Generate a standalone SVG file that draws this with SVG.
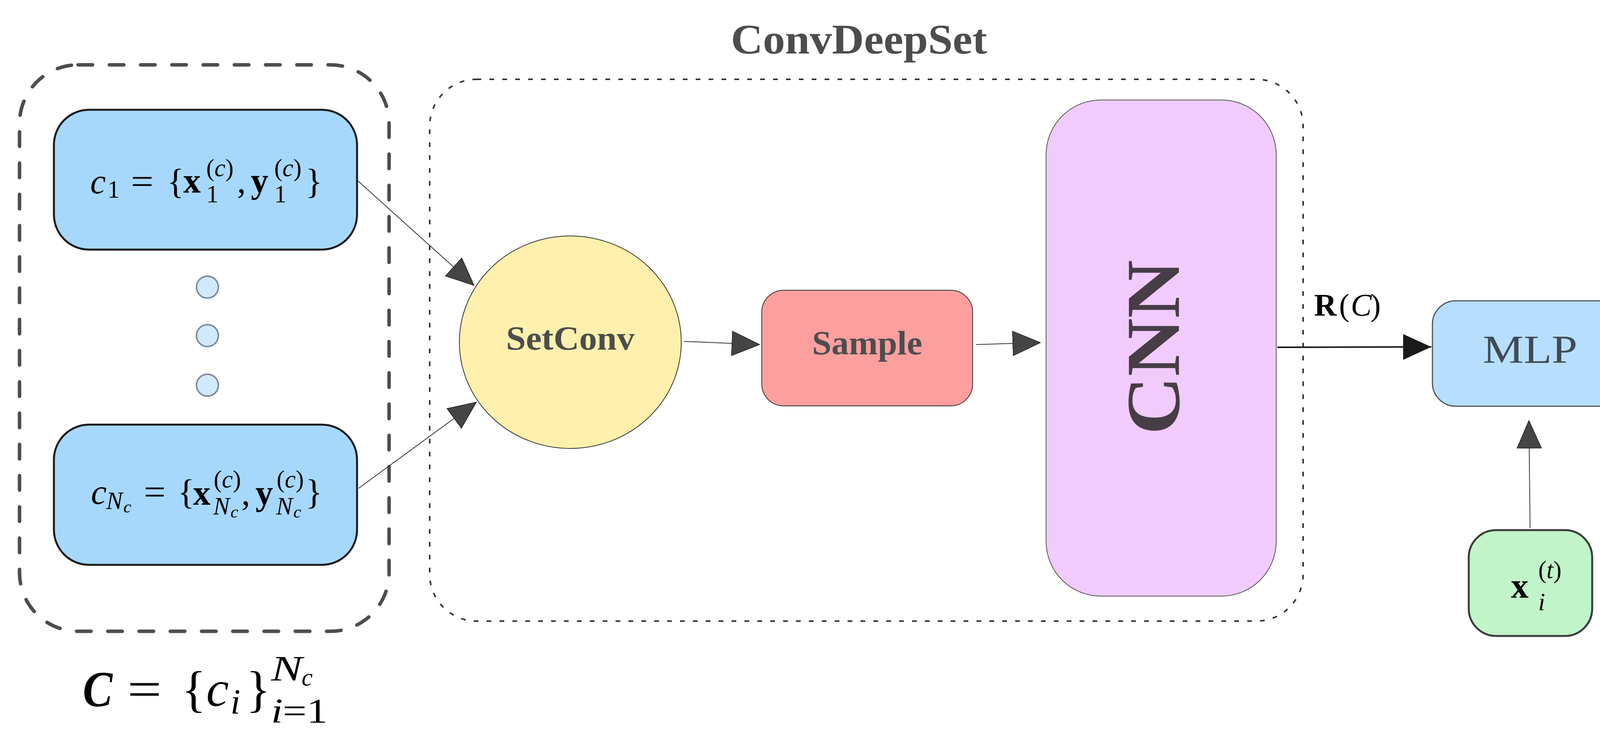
<svg xmlns="http://www.w3.org/2000/svg" width="4834" height="1902" viewBox="0 0 4834 1902">
<style>
text{font-family:"Liberation Serif","Times New Roman",serif;}
.m{font-size:90px;fill:#000;}
.s{font-size:63px;fill:#000;}
.ss{font-size:45px;fill:#000;}
.it{font-style:italic;}
.bf{font-weight:bold;}
.cbox{fill:#a6d8fd;stroke:#1a1a1a;stroke-width:5;}
.dot{fill:#d1e9fd;stroke:#808b96;stroke-width:4;}
.out{fill:#40bf55;stroke:#1a1a1a;stroke-width:6;}
.conn{fill:none;stroke:#333;stroke-width:2;}
.connb{fill:none;stroke:#1a1a1a;stroke-width:4;}
.lbl{fill:#4d4d4d;font-weight:bold;}
</style>
<defs>
<marker id="ahg" viewBox="0 0 72 64" refX="72" refY="32" markerWidth="72" markerHeight="64" markerUnits="userSpaceOnUse" orient="auto">
<path d="M1,1L71,32L1,63Z" fill="#454545" stroke="#2a2a2a" stroke-width="2"/>
</marker>
<marker id="ahb" viewBox="0 0 72 66" refX="72" refY="33" markerWidth="72" markerHeight="66" markerUnits="userSpaceOnUse" orient="auto">
<path d="M0,0L72,33L0,66Z" fill="#1a1a1a"/>
</marker>
</defs>
<rect width="4834" height="1902" fill="#fff"/>

<g id="context-set">
<rect x="50" y="166" width="946" height="1450" rx="150" ry="150" fill="none" stroke="#4d4d4d" stroke-width="9" stroke-dasharray="37 43" stroke-linecap="round"/>
</g>

<g id="convdeepset">
<rect x="1100" y="203" width="2236" height="1387" rx="120" ry="120" fill="none" stroke="#333" stroke-width="4" stroke-dasharray="12 21"/>
<text x="2199" y="137" text-anchor="middle" font-size="109" class="lbl" textLength="656" lengthAdjust="spacingAndGlyphs">ConvDeepSet</text>
</g>

<g id="output-set">
<rect x="4358" y="559" width="426" height="770" rx="90" ry="90" fill="none" stroke="#1a1a1a" stroke-width="7" stroke-dasharray="45 40"/>
</g>

<g id="c1">
<rect class="cbox" x="138" y="281" width="776" height="358" rx="90" ry="90"/>
<text class="m it" x="231" y="495">c</text>
<text class="s" x="275" y="506">1</text>
<text class="m" x="335" y="495" textLength="58" lengthAdjust="spacingAndGlyphs">=</text>
<text class="m" x="428" y="495">{</text>
<text class="m bf" x="469" y="493">x</text>
<text class="s" x="528" y="451">(<tspan class="it">c</tspan>)</text>
<text class="s" x="528" y="518">1</text>
<text class="m" x="607" y="493">,</text>
<text class="m bf" x="642" y="493">y</text>
<text class="s" x="702" y="451">(<tspan class="it">c</tspan>)</text>
<text class="s" x="702" y="518">1</text>
<text class="m" x="782" y="495">}</text>
</g>

<g id="dots">
<circle class="dot" cx="531" cy="735" r="28"/>
<circle class="dot" cx="531" cy="859" r="28"/>
<circle class="dot" cx="531" cy="986" r="28"/>
</g>

<g id="cNc">
<rect class="cbox" x="138" y="1087" width="776" height="359" rx="90" ry="90"/>
<text class="m it" x="233" y="1290">c</text>
<text class="s it" x="272" y="1303">N</text>
<text class="ss it" x="316" y="1312">c</text>
<text class="m" x="368" y="1290" textLength="56" lengthAdjust="spacingAndGlyphs">=</text>
<text class="m" x="455" y="1290">{</text>
<text class="m bf" x="494" y="1292">x</text>
<text class="s" x="547" y="1248">(<tspan class="it">c</tspan>)</text>
<text class="s it" x="546" y="1317">N</text>
<text class="ss it" x="590" y="1325">c</text>
<text class="m" x="618" y="1292">,</text>
<text class="m bf" x="654" y="1292">y</text>
<text class="s" x="708" y="1248">(<tspan class="it">c</tspan>)</text>
<text class="s it" x="707" y="1317">N</text>
<text class="ss it" x="751" y="1325">c</text>
<text class="m" x="782" y="1290">}</text>
</g>

<g id="context-label">
<text x="212" y="1808" font-size="130" class="it bf" textLength="76" lengthAdjust="spacingAndGlyphs">C</text>
<text x="326" y="1808" font-size="130" textLength="88" lengthAdjust="spacingAndGlyphs">=</text>
<text x="465" y="1808" font-size="130">{</text>
<text x="528" y="1807" font-size="130" class="it">c</text>
<text x="590" y="1827" font-size="91" class="it">i</text>
<text x="630" y="1808" font-size="130">}</text>
<text x="694" y="1742" font-size="91" class="it" textLength="80" lengthAdjust="spacingAndGlyphs">N</text>
<text x="772" y="1755" font-size="64" class="it">c</text>
<text x="694" y="1849" font-size="88" textLength="145" lengthAdjust="spacingAndGlyphs"><tspan class="it">i</tspan>=1</text>
</g>

<g id="setconv">
<ellipse cx="1460" cy="876" rx="284" ry="272" fill="#fff0ad" stroke="#333" stroke-width="2"/>
<text x="1460" y="895" text-anchor="middle" font-size="86" class="lbl" textLength="329" lengthAdjust="spacingAndGlyphs">SetConv</text>
</g>

<g id="sample">
<rect x="1950" y="743" width="540" height="296" rx="56" ry="56" fill="#fe9f9f" stroke="#333" stroke-width="2"/>
<text x="2220" y="907" text-anchor="middle" font-size="86" class="lbl" textLength="282" lengthAdjust="spacingAndGlyphs">Sample</text>
</g>

<g id="cnn">
<rect x="2678" y="256" width="589" height="1270" rx="140" ry="140" fill="#f0cbfc" stroke="#555" stroke-width="2"/>
<text transform="translate(3018,889) rotate(-90)" x="0" y="0" text-anchor="middle" font-size="196" font-weight="bold" fill="#463d46" textLength="447" lengthAdjust="spacingAndGlyphs">CNN</text>
</g>

<g id="representation-label">
<text font-size="80" fill="#000"><tspan x="3364" y="808" font-weight="bold">R</tspan><tspan x="3428" y="808">(</tspan><tspan x="3458" y="808" font-style="italic">C</tspan><tspan x="3508" y="808">)</tspan></text>
</g>

<g id="mlp">
<rect x="3667" y="770" width="500" height="270" rx="60" ry="60" fill="#b7dffd" stroke="#4d5560" stroke-width="3"/>
<text x="3917" y="929" text-anchor="middle" font-size="101" fill="#3f4b55" textLength="242" lengthAdjust="spacingAndGlyphs">MLP</text>
</g>

<g id="target-input">
<rect x="3760" y="1357" width="316" height="271" rx="70" ry="70" fill="#c1f4c9" stroke="#3c3c3c" stroke-width="5"/>
<text class="m bf" x="3868" y="1530">x</text>
<text class="s" x="3938" y="1480">(<tspan class="it">t</tspan>)</text>
<text class="s it" x="3938" y="1562">i</text>
</g>

<g id="mu">
<rect class="out" x="4427" y="619" width="305" height="290" rx="75" ry="75"/>
<text x="4578" y="804" text-anchor="middle" font-size="190" class="it bf">μ</text>
</g>

<g id="sigma">
<rect class="out" x="4427" y="973" width="305" height="291" rx="75" ry="75"/>
<text x="4583" y="1175" text-anchor="middle" font-size="210" class="it bf">σ</text>
</g>

<g id="connectors">
<line class="conn" x1="914" y1="461" x2="1214" y2="731" marker-end="url(#ahg)"/>
<line class="conn" x1="918" y1="1250" x2="1220" y2="1029" marker-end="url(#ahg)"/>
<line class="conn" x1="1751" y1="874" x2="1945" y2="882" marker-end="url(#ahg)"/>
<line class="conn" x1="2499" y1="882" x2="2664" y2="877" marker-end="url(#ahg)"/>
<line class="connb" x1="3270" y1="889" x2="3664" y2="888" marker-end="url(#ahb)"/>
<line class="connb" x1="4172" y1="895" x2="4356" y2="895" marker-end="url(#ahb)"/>
<line class="conn" x1="3917" y1="1352" x2="3914" y2="1076" stroke-width="3" marker-end="url(#ahg)"/>
</g>
</svg>
